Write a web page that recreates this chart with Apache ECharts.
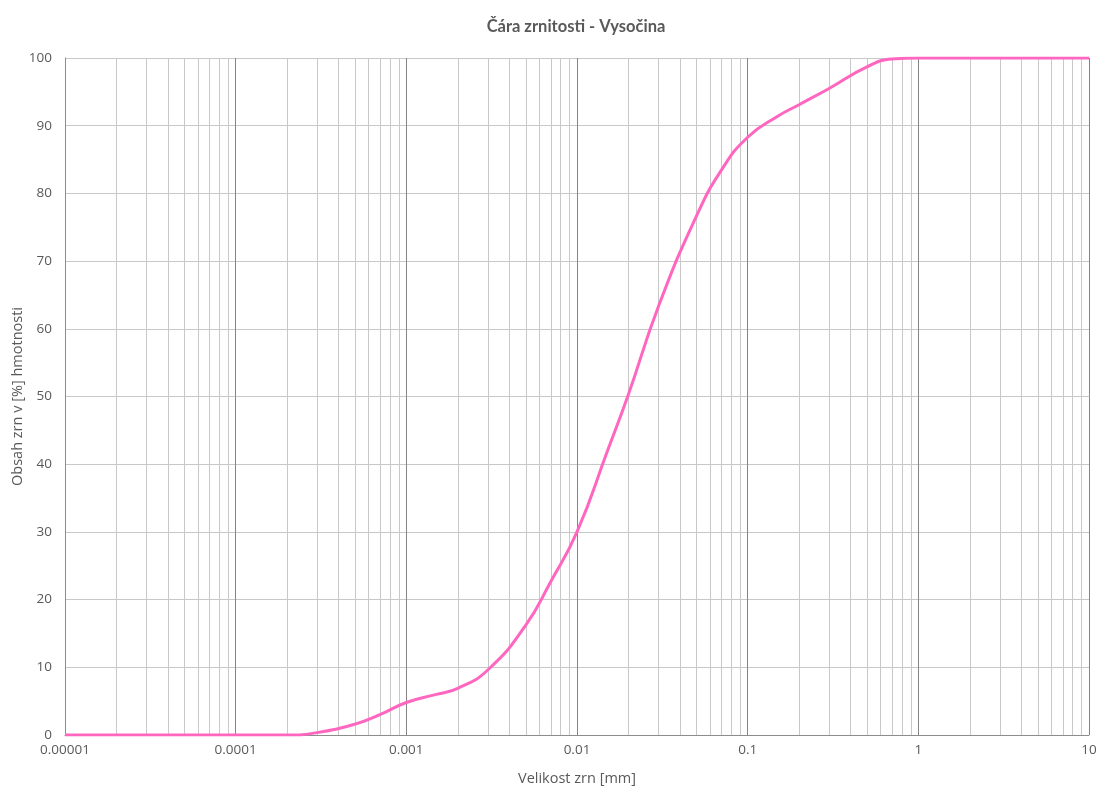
<!DOCTYPE html>
<html>
<head>
<meta charset="utf-8">
<script src="https://cdn.jsdelivr.net/npm/echarts@6/dist/echarts.min.js"></script>
<style>
  html, body { margin: 0; padding: 0; background: #fff; }
  #chart { width: 1100px; height: 787px; }
</style>
</head>
<body>
<div id="chart"></div>
<script>
// Grain size distribution curve (sieve + hydrometer analysis)
const grainSizes = [0.00001, 0.0001, 0.0002, 0.0003, 0.0005, 0.0007, 0.001, 0.0015, 0.002, 0.003,
                    0.005, 0.007, 0.01, 0.015, 0.02, 0.03, 0.05, 0.07, 0.1, 0.15,
                    0.2, 0.3, 0.5, 0.7, 1, 10];
const passingPercent = [0, 0, 0, 0.35, 1.6, 3.0, 4.8, 6.0, 6.9, 9.6,
                        16.2, 22.6, 30, 41.8, 50.3, 63.3, 76.6, 83.4, 88.3, 91.4,
                        93.1, 95.5, 98.7, 99.85, 100, 100];

const xTickLabels = ['0.00001', '0.0001', '0.001', '0.01', '0.1', '1', '10'];
const yTicks = [0, 10, 20, 30, 40, 50, 60, 70, 80, 90, 100];

// intermediate grid lines inside each decade (2..9 × 10^k)
const decadeStarts = [0.00001, 0.0001, 0.001, 0.01, 0.1, 1];
const decadeSteps = [2, 3, 4, 5, 6, 7, 8, 9];
const minorGrid = [];
decadeStarts.forEach(d => decadeSteps.forEach(s => minorGrid.push([+(d * s).toPrecision(6), 0])));

const textColor = '#595959';
const axisFont = '"Open Sans", "Noto Sans", sans-serif';
const titleFont = 'Lato, "Open Sans", sans-serif';

const chart = echarts.init(document.getElementById('chart'), null, { renderer: 'canvas' });
chart.setOption({
  animation: false,
  backgroundColor: '#fff',
  title: {
    text: 'Čára zrnitosti - Vysočina',
    left: 571,
    textAlign: 'center',
    top: 13,
    textStyle: { color: textColor, fontSize: 16.5, fontWeight: 'bold', fontFamily: titleFont }
  },
  grid: { left: 65, right: 11, top: 58, bottom: 52, containLabel: false, outerBoundsMode: 'none' },
  xAxis: {
    type: 'log',
    logBase: 10,
    min: 0.00001,
    max: 10,
    name: 'Velikost zrn [mm]',
    nameLocation: 'middle',
    nameGap: 36,
    nameMoveOverlap: false,
    nameTextStyle: { color: textColor, fontSize: 14.5, fontFamily: axisFont },
    axisLine: { show: true, lineStyle: { color: '#8c8c8c', width: 1 } },
    axisTick: { show: false },
    axisLabel: {
      color: textColor, fontSize: 13.5, fontFamily: axisFont, margin: 8,
      formatter: v => xTickLabels[Math.round(Math.log10(v) + 5)] ?? ''
    },
    splitLine: { show: true, lineStyle: { color: '#858585', width: 1 } }
  },
  yAxis: {
    type: 'value',
    min: 0,
    max: 100,
    interval: 10,
    name: 'Obsah zrn v [%] hmotnosti',
    nameLocation: 'middle',
    nameGap: 40,
    nameMoveOverlap: false,
    nameRotate: 90,
    nameTextStyle: { color: textColor, fontSize: 14.5, fontFamily: axisFont },
    axisLine: { show: true, lineStyle: { color: '#8c8c8c', width: 1 } },
    axisTick: { show: false },
    axisLabel: {
      color: textColor, fontSize: 13.5, fontFamily: axisFont, margin: 13,
      formatter: v => yTicks.includes(v) ? String(v) : ''
    },
    splitLine: { show: true, lineStyle: { color: '#c8c8c8', width: 1 } }
  },
  series: [
    {
      name: 'minor grid',
      type: 'custom',
      silent: true,
      z: 1,
      encode: { x: 0, y: 1 },
      data: minorGrid,
      renderItem: (params, api) => {
        const v = api.value(0);
        const bottom = api.coord([v, 0]);
        const top = api.coord([v, 100]);
        const x = Math.round(bottom[0]) + 0.5;
        return {
          type: 'line',
          shape: { x1: x, y1: top[1], x2: x, y2: bottom[1] },
          style: { stroke: '#c8c8c8', lineWidth: 1 }
        };
      }
    },
    {
      name: 'Vysočina',
      type: 'line',
      z: 5,
      smooth: 0.5,
      showSymbol: false,
      symbol: 'none',
      lineStyle: { color: '#ff66c0', width: 3 },
      data: grainSizes.map((g, i) => [g, passingPercent[i]])
    }
  ]
});
</script>
</body>
</html>
